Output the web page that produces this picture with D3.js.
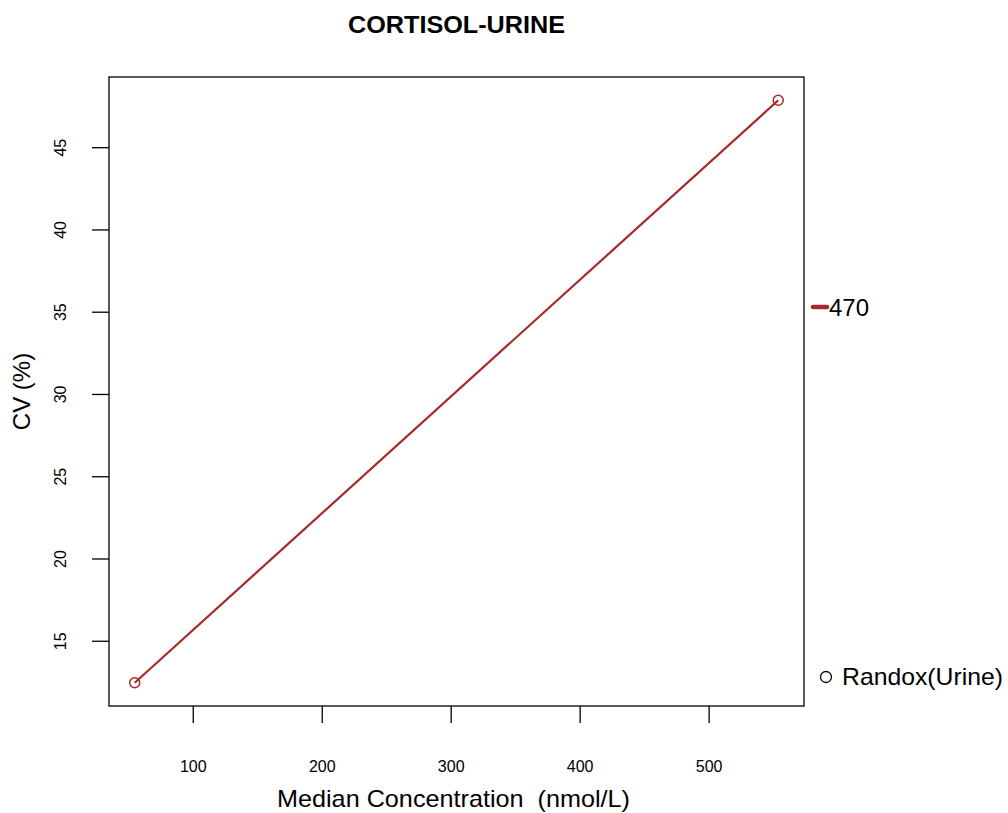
<!DOCTYPE html>
<html>
<head>
<meta charset="utf-8">
<script src="https://cdn.jsdelivr.net/npm/d3@7"></script>
<style>
  html, body { margin: 0; padding: 0; background: #fff; }
  svg { display: block; font-family: "Liberation Sans", Arial, sans-serif; }
</style>
</head>
<body>
<svg id="chart" width="1008" height="813"></svg>
<script>
const title = "CORTISOL-URINE";
const xLabel = "Median Concentration  (nmol/L)";
const yLabel = "CV (%)";
const seriesName = "470";
const instrumentName = "Randox(Urine)";
const concentrations = [55, 554];
const cvValues = [12.45, 47.85];
const xTicks = [100, 200, 300, 400, 500];
const yTicks = [15, 20, 25, 30, 35, 40, 45];
const lineColor = "#A52A2A";

const svg = d3.select("#chart");
const plot = { left: 109, right: 804, top: 77, bottom: 706 };

function expand(ext) { const d = (ext[1] - ext[0]) * 0.04; return [ext[0] - d, ext[1] + d]; }

const x = d3.scaleLinear().domain(expand(d3.extent(concentrations))).range([plot.left, plot.right]);
const y = d3.scaleLinear().domain(expand(d3.extent(cvValues))).range([plot.bottom, plot.top]);

const data = concentrations.map((c, i) => ({ x: c, y: cvValues[i] }));

// Frame
svg.append("rect")
  .attr("x", plot.left).attr("y", plot.top)
  .attr("width", plot.right - plot.left).attr("height", plot.bottom - plot.top)
  .attr("fill", "none").attr("stroke", "#000").attr("stroke-width", 1.3);

// X axis
const xAxis = d3.axisBottom(x).tickValues(xTicks).tickSize(17).tickPadding(0).tickFormat(d3.format("d"));
const gx = svg.append("g").attr("transform", `translate(0,${plot.bottom})`).call(xAxis);
gx.select(".domain").remove();
gx.selectAll(".tick line").attr("stroke", "#000").attr("stroke-width", 1.3);
gx.selectAll(".tick text").attr("y", 0).attr("dy", 0)
  .attr("transform", "translate(0,66)")
  .attr("font-size", 16).attr("fill", "#000")
  .attr("font-family", "Liberation Sans, Arial, sans-serif");

// Y axis
const yAxis = d3.axisLeft(y).tickValues(yTicks).tickSize(17).tickFormat(d3.format("d"));
const gy = svg.append("g").attr("transform", `translate(${plot.left},0)`).call(yAxis);
gy.select(".domain").remove();
gy.selectAll(".tick line").attr("stroke", "#000").attr("stroke-width", 1.3);
gy.selectAll(".tick text")
  .attr("x", 0).attr("dy", 0)
  .attr("transform", "translate(-43,0) rotate(-90)")
  .attr("text-anchor", "middle")
  .attr("font-size", 16).attr("fill", "#000")
  .attr("font-family", "Liberation Sans, Arial, sans-serif");

// Line
svg.append("path")
  .datum(data)
  .attr("d", d3.line().x(d => x(d.x)).y(d => y(d.y)))
  .attr("fill", "none").attr("stroke", lineColor).attr("stroke-width", 2.2);

// Points
svg.selectAll("circle.pt").data(data).enter().append("circle")
  .attr("class", "pt")
  .attr("cx", d => x(d.x)).attr("cy", d => y(d.y)).attr("r", 5)
  .attr("fill", "none").attr("stroke", lineColor).attr("stroke-width", 1.5);

// Title
svg.append("text")
  .attr("x", (plot.left + plot.right) / 2).attr("y", 33)
  .attr("text-anchor", "middle").attr("font-weight", "bold").attr("font-size", 23)
  .attr("textLength", 217).attr("lengthAdjust", "spacingAndGlyphs")
  .text(title);

// Axis labels
svg.append("text")
  .attr("x", (plot.left + plot.right) / 2 - 3).attr("y", 807)
  .attr("text-anchor", "middle").attr("font-size", 24)
  .style("white-space", "pre")
  .attr("textLength", 353).attr("lengthAdjust", "spacingAndGlyphs")
  .text(xLabel);

svg.append("text")
  .attr("transform", `translate(30,${(plot.top + plot.bottom) / 2}) rotate(-90)`)
  .attr("text-anchor", "middle").attr("font-size", 24)
  .text(yLabel);

// Legend: series
svg.append("line")
  .attr("x1", 813).attr("x2", 827).attr("y1", 307).attr("y2", 307)
  .attr("stroke", lineColor).attr("stroke-width", 4.5).attr("stroke-linecap", "round");
svg.append("text")
  .attr("x", 829).attr("y", 316).attr("font-size", 24)
  .text(seriesName);

// Legend: instrument
svg.append("circle")
  .attr("cx", 826).attr("cy", 677).attr("r", 5.5)
  .attr("fill", "none").attr("stroke", "#000").attr("stroke-width", 1.3);
svg.append("text")
  .attr("x", 842).attr("y", 685).attr("font-size", 24)
  .attr("textLength", 161).attr("lengthAdjust", "spacingAndGlyphs")
  .text(instrumentName);
</script>
</body>
</html>
